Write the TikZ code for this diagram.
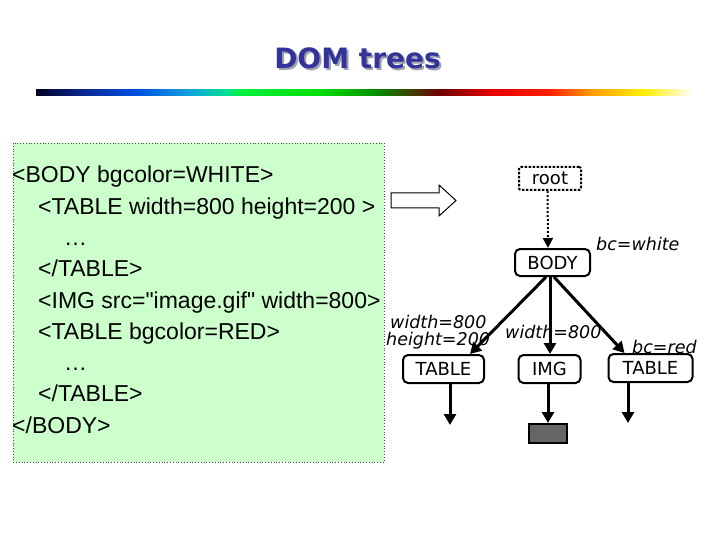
\documentclass[tikz,border=0pt]{standalone}
\usepackage{fontspec}
\setmainfont{Liberation Sans}[Ligatures=TeXOff]
\newfontfamily\dvs{DejaVu Sans}
\usetikzlibrary{arrows.meta}
\definecolor{boxgreen}{HTML}{CCFFCC}
\definecolor{titleblue}{HTML}{333399}
\definecolor{shadowgray}{HTML}{A0A0B0}
\definecolor{gifgray}{HTML}{666666}
\definecolor{cA}{HTML}{000022}
\definecolor{cB}{HTML}{0A2A9A}
\definecolor{cC}{HTML}{0050E0}
\definecolor{cD}{HTML}{10A0E0}
\definecolor{cE}{HTML}{00E090}
\definecolor{cF}{HTML}{00F040}
\definecolor{cG}{HTML}{00DD00}
\definecolor{cH}{HTML}{009000}
\definecolor{cI}{HTML}{700000}
\definecolor{cJ}{HTML}{E80000}
\definecolor{cK}{HTML}{FF2000}
\definecolor{cL}{HTML}{FFA000}
\definecolor{cM}{HTML}{FFEE00}
\pgfdeclarehorizontalshading{rainbowbar}{100bp}{%
  color(0bp)=(cA); color(25bp)=(cA); color(28.88bp)=(cB); color(32.69bp)=(cC);
  color(36.49bp)=(cD); color(39.54bp)=(cE); color(40.52bp)=(cF); color(46.61bp)=(cG);
  color(50.80bp)=(cH); color(55.75bp)=(cI); color(59.78bp)=(cJ); color(64.12bp)=(cK);
  color(67.39bp)=(cL); color(71.19bp)=(cM); color(75bp)=(white); color(100bp)=(white)}
\begin{document}
\begin{tikzpicture}[x=1pt,y=-1pt,
  codeline/.style={anchor=base west,inner sep=0pt,font=\fontsize{23}{28}\selectfont},
  treenode/.style={draw,line width=2pt,rounded corners=5pt,fill=white,inner sep=0pt,
    font=\dvs\fontsize{18}{20}\selectfont},
  attrlab/.style={inner sep=0pt,anchor=base west,font=\dvs\itshape\fontsize{17.5}{17}\selectfont},
  treearrow/.style={line width=3pt,-{Triangle[length=11pt,width=12pt]}},
  titlefont/.style={font=\dvs\bfseries\fontsize{28}{30}\selectfont,inner sep=0pt,anchor=base}]
\useasboundingbox (0,0) rectangle (720,540);
\fill[white] (0,0) rectangle (720,540);

% title
\node[titlefont,text=shadowgray] (titleshadow) at (359.5,71) {DOM trees};
\node[titlefont,text=titleblue] (title) at (357.5,69) {DOM trees};
\shade[shading=rainbowbar] (36,90) rectangle (693,96);

% HTML source box
\draw[fill=boxgreen,draw=black!70,line width=0.8pt,dotted] (13,143) rectangle (384,462);
\node[codeline] (l1) at (12,183) {<BODY bgcolor=WHITE>};
\node[codeline] (l2) at (38,214.3) {<TABLE width=800 height=200 >};
\node[codeline] (l3) at (64,245.5) {…};
\node[codeline] (l4) at (38,276.8) {</TABLE>};
\node[codeline] (l5) at (38,308) {<IMG src="image.gif" width=800>};
\node[codeline] (l6) at (38,339.3) {<TABLE bgcolor=RED>};
\node[codeline] (l7) at (64,370.5) {…};
\node[codeline] (l8) at (38,401.8) {</TABLE>};
\node[codeline] (l9) at (12,433) {</BODY>};

% block arrow
\draw[fill=white,line width=1pt,line join=miter] (391,193) -- (439,193) -- (439,185) -- (456,200.5)
  -- (439,216) -- (439,208) -- (391,208) -- cycle;

% tree nodes
\node[treenode,rounded corners=2pt,dash pattern=on 2.5pt off 1.5pt,minimum width=62pt,minimum height=23pt] (root) at (550,178.5) {root};
\node[treenode,minimum width=75pt,minimum height=27pt] (body) at (552.5,262.5) {BODY};
\node[treenode,minimum width=81pt,minimum height=28pt] (t1) at (443.5,369) {TABLE};
\node[treenode,minimum width=62pt,minimum height=28pt] (img) at (549.5,369) {IMG};
\node[treenode,minimum width=84pt,minimum height=28pt] (t2) at (650.5,368) {TABLE};
\node[draw,line width=2pt,fill=gifgray,minimum width=38pt,minimum height=19pt,inner sep=0pt] (gif) at (548,433.5) {};

% attribute labels
\node[attrlab] (bcw) at (596,250) {bc=white};
\node[attrlab] (w1) at (390,328) {width=800};
\node[attrlab] (h1) at (386,345) {height=200};
\node[attrlab] (w2) at (505,338) {width=800};
\node[attrlab] (bcr) at (632,353) {bc=red};

% connectors
\draw[line width=2pt,dash pattern=on 2pt off 2pt,-{Triangle[length=10pt,width=10pt]}] ([xshift=-2.5pt]root.south) -- ([xshift=-4.5pt]body.north);
\draw[treearrow] ([xshift=-6.5pt]body.south) -- ([xshift=26.5pt]t1.north);
\draw[treearrow] ([xshift=-2.5pt]body.south) -- ([xshift=0.5pt]img.north);
\draw[treearrow] ([xshift=1.5pt]body.south) -- ([xshift=-26pt]t2.north);
\coordinate (t1end) at (450,425);
\coordinate (t2end) at (628,423);
\draw[treearrow] (t1.south -| t1end) -- (t1end);
\draw[treearrow] (img.south -| gif.north) -- (gif.north);
\draw[treearrow] (t2.south -| t2end) -- (t2end);
\end{tikzpicture}
\end{document}
